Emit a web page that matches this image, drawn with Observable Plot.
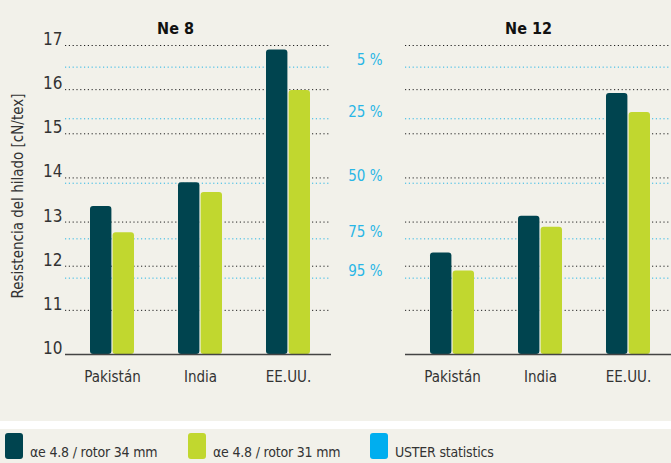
<!DOCTYPE html>
<html>
<head>
<meta charset="utf-8">
<script src="https://cdn.jsdelivr.net/npm/d3@7"></script>
<script src="https://cdn.jsdelivr.net/npm/@observablehq/plot@0.6"></script>
<style>
  html, body { margin: 0; padding: 0; background: #ffffff; }
  body { width: 671px; height: 463px; overflow: hidden; font-family: "Liberation Sans Narrow", "DejaVu Sans Condensed", Roboto, sans-serif; }
  #chart { background: #f2f1ea; height: 421px; }
  #gap { height: 8px; background: #ffffff; }
  #legend { background: #f2f1ea; height: 34px; position: relative; }
  .item { position: absolute; top: 4px; display: flex; align-items: flex-start; font-size: 14px; letter-spacing: -0.2px; color: #333; }
  .sw { width: 18px; height: 26px; border-radius: 3px; margin-right: 7px; }
  .item span { margin-top: 11px; }
</style>
</head>
<body>
<div id="chart"></div>
<div id="gap"></div>
<div id="legend"></div>
<script>
// ---- data ----
const panels = ["Ne 8", "Ne 12"];
const countries = ["Pakistán", "India", "EE.UU."];
const seriesNames = ["αe 4.8 / rotor 34 mm", "αe 4.8 / rotor 31 mm", "USTER statistics"];
const seriesColors = ["#00444f", "#c1d72f", "#00aeef"];
const ne8_rotor34 = [13.35, 13.89, 16.90];
const ne8_rotor31 = [12.76, 13.67, 15.98];
const ne12_rotor34 = [12.30, 13.13, 15.91];
const ne12_rotor31 = [11.89, 12.88, 15.48];
const usterLabels = ["5 %", "25 %", "50 %", "75 %", "95 %"];
const usterValues = [16.51, 15.34, 13.88, 12.62, 11.73];
const yTicks = [10, 11, 12, 13, 14, 15, 16, 17];
const yLabel = "Resistencia del hilado [cN/tex]";

const rows = [];
countries.forEach((c, i) => {
  rows.push({panel: "Ne 8", country: c, s: 0, v: ne8_rotor34[i]});
  rows.push({panel: "Ne 8", country: c, s: 1, v: ne8_rotor31[i]});
  rows.push({panel: "Ne 12", country: c, s: 0, v: ne12_rotor34[i]});
  rows.push({panel: "Ne 12", country: c, s: 1, v: ne12_rotor31[i]});
});
const uster = usterValues.map((v, i) => ({v, label: usterLabels[i]}));
const font = '"Liberation Sans Narrow", "DejaVu Sans Condensed", Roboto, sans-serif';

const chart = Plot.plot({
  width: 671,
  height: 421,
  marginLeft: 65,
  marginRight: 0,
  marginTop: 45,
  marginBottom: 67,
  style: {background: "transparent", fontFamily: font, fontSize: "15px", color: "#333"},
  fx: {domain: panels, paddingInner: 0.218, paddingOuter: 0, axis: null},
  x: {domain: countries, paddingInner: 0.5, paddingOuter: 0.25, align: 0.55},
  y: {domain: [10, 17]},
  marks: [
    Plot.ruleY(yTicks.slice(1), {stroke: "#222", strokeWidth: 1, strokeDasharray: "1.2,2.6"}),
    Plot.ruleY(uster, {y: "v", stroke: "#29b6e6", strokeWidth: 1, strokeDasharray: "1.2,2.6"}),
    Plot.barY(rows.filter(d => d.s === 0), {fx: "panel", x: "country", y1: 10, y2: "v", fill: seriesColors[0], insetRight: 22.6, insetLeft: 0, rx: 3}),
    Plot.barY(rows.filter(d => d.s === 1), {fx: "panel", x: "country", y1: 10, y2: "v", fill: seriesColors[1], insetLeft: 22.6, insetRight: 0, rx: 3}),
    Plot.ruleY([10], {stroke: "#444", strokeWidth: 1.5}),
    Plot.axisY({ticks: yTicks, tickFormat: "d", tickSize: 0, tickPadding: 3, dy: -6, fontSize: 17, fontWeight: "normal", fill: "#333", label: null}),
    Plot.axisX({tickSize: 0, tickPadding: 17, fontSize: 15, fontWeight: "normal", fill: "#333", label: null}),
    Plot.text([yLabel], {fx: ["Ne 8"], frameAnchor: "left", textAnchor: "middle", dx: -47, dy: -4, rotate: -90, text: d => d, fontSize: 15, fontWeight: "normal", fill: "#333"}),
    Plot.text(uster, {fx: () => "Ne 8", y: "v", text: "label", frameAnchor: "right", dx: 51, dy: -7, textAnchor: "end", fontSize: 15, fontWeight: "normal", fill: "#29b6e6"}),
    Plot.text(["Ne 8"], {fx: d => d, frameAnchor: "top", text: d => d, dx: -23, dy: -23, fontWeight: "bold", fontSize: 16, fill: "#111"}),
    Plot.text(["Ne 12"], {fx: d => d, frameAnchor: "top", text: d => d, dx: -10, dy: -23, fontWeight: "bold", fontSize: 16, fill: "#111"})
  ]
});
document.getElementById("chart").appendChild(chart);

const legend = document.getElementById("legend");
const lefts = [5, 188, 370];
seriesNames.forEach((name, i) => {
  const item = document.createElement("div");
  item.className = "item";
  item.style.left = lefts[i] + "px";
  const sw = document.createElement("div");
  sw.className = "sw";
  sw.style.background = seriesColors[i];
  const t = document.createElement("span");
  t.textContent = name;
  item.appendChild(sw);
  item.appendChild(t);
  legend.appendChild(item);
});
</script>
</body>
</html>
